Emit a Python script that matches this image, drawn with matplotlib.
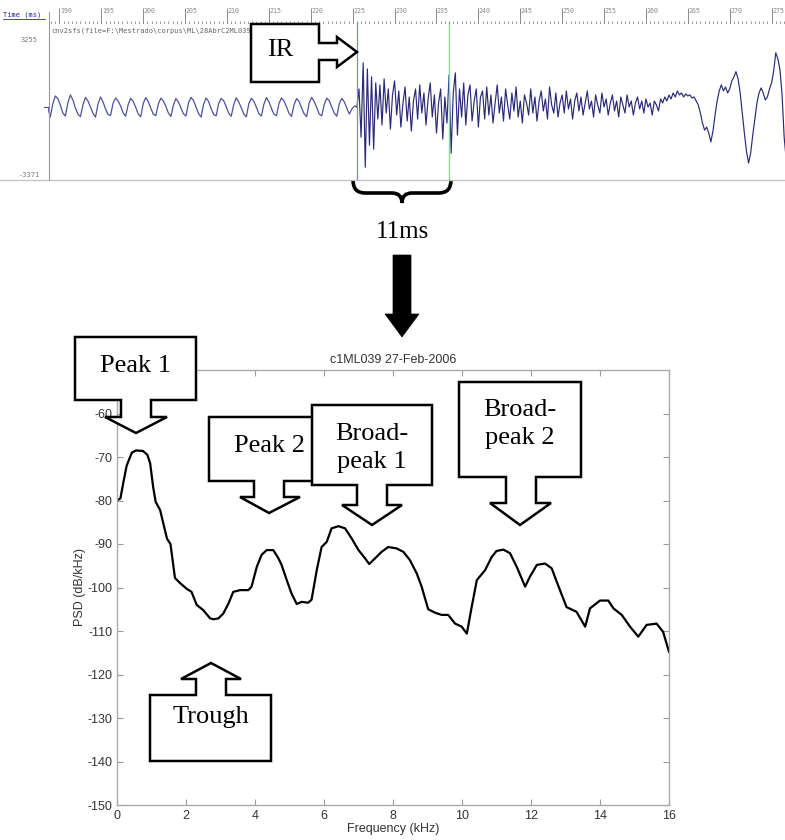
import matplotlib
matplotlib.use('Agg')
import matplotlib.pyplot as plt
from matplotlib.patches import Polygon, PathPatch
from matplotlib.path import Path
import numpy as np

W, H = 785, 840

# --- PSD of the 11 ms window ---
freq_khz = [0.0, 0.1, 0.18, 0.28, 0.43, 0.55, 0.75, 0.88, 0.96, 1.05, 1.12, 1.25, 1.34, 1.45,
            1.55, 1.68, 1.83, 2.02, 2.16, 2.31, 2.5, 2.7, 2.8, 2.94, 3.08, 3.23, 3.37, 3.57,
            3.81, 3.9, 4.05, 4.19, 4.34, 4.53, 4.68, 4.77, 4.92, 5.06, 5.21, 5.35, 5.54, 5.64,
            5.79, 5.93, 6.08, 6.22, 6.42, 6.61, 6.8, 7.0, 7.19, 7.31, 7.48, 7.67, 7.86, 8.1,
            8.3, 8.49, 8.69, 8.83, 9.02, 9.22, 9.41, 9.6, 9.8, 9.99, 10.14, 10.28, 10.43,
            10.67, 10.86, 11.0, 11.2, 11.39, 11.59, 11.83, 11.97, 12.17, 12.41, 12.6, 12.8,
            13.03, 13.32, 13.57, 13.71, 14.0, 14.24, 14.39, 14.63, 14.87, 15.11, 15.35,
            15.64, 15.83, 16.0]
psd_db = [-80.0, -79.5, -76.0, -72.0, -69.0, -68.5, -68.6, -69.5, -71.4, -77.0, -80.3, -82.2,
          -85.2, -88.8, -90.0, -97.8, -99.0, -100.3, -101.0, -104.0, -105.2, -107.1, -107.3,
          -107.1, -106.0, -103.7, -101.0, -100.6, -100.6, -99.8, -95.3, -92.5, -91.4, -91.4,
          -93.3, -94.8, -98.3, -101.4, -103.8, -103.3, -103.5, -102.8, -96.0, -90.7, -89.5,
          -86.4, -85.9, -86.4, -88.7, -91.4, -93.3, -94.6, -93.3, -91.8, -90.7, -91.0, -91.8,
          -93.7, -96.8, -99.8, -105.0, -105.8, -106.3, -106.3, -108.3, -109.0, -110.6, -104.5,
          -98.3, -96.0, -93.0, -91.6, -91.3, -92.1, -95.3, -99.8, -97.5, -94.8, -94.5, -95.6,
          -99.8, -104.5, -105.6, -109.0, -104.8, -103.0, -103.0, -104.8, -106.3, -109.0,
          -111.3, -108.6, -108.3, -110.2, -114.8]

# --- waveform (top strip), amplitude units ---
pre_ir_start = 188.6   # ms
pre_ir_step = 0.3
pre_ir = [0, -500, 150, 550, 420, 100, -300,
          -450, 200, 600, 350, -50, -350,
          -480, 100, 480, 300, 0, -320,
          -500, 150, 500, 250, -100, -380,
          -420, 200, 450, 300, 50, -300,
          -460, 120, 430, 280, -20, -350,
          -480, 180, 470, 260, -60, -360,
          -430, 150, 440, 300, 30, -300,
          -470, 100, 420, 250, -50, -340,
          -450, 200, 480, 320, 0, -330,
          -500, 130, 450, 270, -80, -370,
          -440, 170, 430, 310, 20, -310,
          -460, 120, 460, 250, -40, -350,
          -490, 160, 440, 290, -10, -330,
          -450, 140, 470, 260, -70, -360,
          -430, 180, 450, 300, 10, -320,
          -470, 110, 420, 270, -50, -340,
          -480, 190, 480, 280, -20, -350,
          -440, 130, 440, 310, 0, -300,
          -460, 160, 430, 250, -60, -350, -100, 50, 0]

ir_start = 225.5
ir_end = 236.5
post_ir_step = 0.25
post_ir = [0, 900, -1500, 2200, -3000, 1900, -1900, 1500, -2100, 1200,
           -600, 1100, -900, 1400, -300, 900, -1100, 600, 1300, -400, 800, -1000, 200, 1000,
           -700, 500, -1200, 300, 900, -600, 1100, -300, 700, -900, 400, 1200, -500, 600,
           -1300, 200, 900, -1600, 500, -800,
           1600, -2300, 700, 1700, -1400, 900, -500, 1200, -900, 600, 1100, -700, 300, 900,
           -1000, 500, 800, -600,
           1000, -400, 600, -800, 200, 1100, -300, 500, -700, 900, 100, -600, 700, -200,
           1000, -500, 300, -800, 600, 200, -400, 900, -300, 500, -700, 300, 800, -200,
           400, -600, 1000, 100, -300, 700, -500, 200,
           600, -300, 800, -100, 400, -600, 300, 700, -200, 500, -400, 200, 800, -100, 300,
           -500, 600, 100, -300, 700, 0, 400, -400, 200, 600, -200, 300, -500, 500, 100,
           -300, 600, 0, 300, -400, 200, 500, -100, 300, -300, 400, 0, 200, -400, 300, 100,
           -200, 400,
           200, 500, 300, 600, 400, 700, 500, 800, 600, 700, 500, 650, 550, 600, 450, 500,
           300, 100,
           -300, -800, -1150, -1000, -1300, -1740, -1200, -400, 300, 800, 1100, 800, 1000,
           700, 900, 1300, 1500, 1760, 1400, 700, -300, -1300, -2200, -2790, -2300, -1400,
           -600, 200, 700, 950, 700, 350, 500, 900, 1200, 1800, 2700, 2400, 1850, 600,
           -1500, -2640]

ruler_labels = list(range(190, 280, 5))
amp_max, amp_min = 3255, -3371
t_left, t_right = 188.63, 276.6

mono = 'DejaVu Sans Mono'
serif = 'Liberation Serif'
plt.rcParams['font.family'] = ['Liberation Sans', 'DejaVu Sans']
plt.rcParams['axes.unicode_minus'] = False

fig = plt.figure(figsize=(W / 100, H / 100), dpi=100)

def fbox(x0, y0, x1, y1):
    # pixel box (top-left origin) -> figure fraction rect
    return [x0 / W, 1 - y1 / H, (x1 - x0) / W, (y1 - y0) / H]

# ---- top waveform strip ----
axw = fig.add_axes(fbox(48, 22, 785, 180))
t_pre = pre_ir_start + pre_ir_step * np.arange(len(pre_ir))
t_post = ir_start + post_ir_step * np.arange(len(post_ir))
axw.plot(t_pre, pre_ir, color='#50509e', lw=0.9)
axw.plot(t_post, post_ir, color='#2a2a78', lw=0.85)
axw.axvline(ir_start, color='#8383e8', lw=0.9)
axw.axvline(ir_end, color='#8fd88f', lw=1.0)
axw.set_xlim(t_left, t_right)
# 1 px ~ 49.8 units, zero line at py 107
axw.set_ylim((107 - 180) * 49.8, (107 - 22) * 49.8)
for s in axw.spines.values():
    s.set_visible(False)
axw.set_xticks([])
axw.set_yticks([])
axw.patch.set_alpha(0)

# ruler with the time scale
axr = fig.add_axes(fbox(48, 0, 785, 24))
axr.set_xlim(t_left, t_right)
axr.set_ylim(24, 0)
axr.axis('off')
minor = np.arange(189.0, 277.0, 0.5)
axr.vlines(minor, 20.5, 24, color='#8a8a8a', lw=0.6)
axr.vlines(ruler_labels, 8, 24, color='#8a8a8a', lw=0.7)
for v in ruler_labels:
    axr.text(v + 0.05, 11, str(v), fontsize=4.8, family=mono, color='#8a8a8a',
             ha='left', va='center')

# ---- lower PSD plot ----
ax = fig.add_axes(fbox(117, 370, 669, 805))
ax.plot(freq_khz, psd_db, color='black', lw=1.6)
ax.set_xlim(0, 16)
ax.set_ylim(-150, -50)
ax.set_xticks(range(0, 17, 2))
ax.set_yticks(range(-150, -50, 10))
ax.tick_params(direction='in', length=4, top=True, right=True, labelsize=9,
               color='#999999', labelcolor='#333333', width=0.8)
for s in ax.spines.values():
    s.set_color('#aaaaaa')
    s.set_linewidth(1.0)
ax.set_title('c1ML039 27-Feb-2006', fontsize=9, color='#333333', pad=5)
ax.set_xlabel('Frequency (kHz)', fontsize=9, color='#333333', labelpad=1)
ax.set_ylabel('PSD (dB/kHz)', fontsize=9, color='#333333', labelpad=1)

# ---- overlay in pixel coordinates for annotations ----
ov = fig.add_axes([0, 0, 1, 1], zorder=10)
ov.set_xlim(0, W)
ov.set_ylim(H, 0)
ov.axis('off')

# strip decorations
ov.plot([0, W], [180, 180], color='#c0c0c0', lw=0.9)
ov.plot([48.5, 48.5], [12, 180], color='#9a9a9a', lw=0.8)
ov.plot([44, 48], [107, 107], color='#555555', lw=0.8)
ov.text(3, 15, 'Time (ms)', fontsize=5, family=mono, color='#2c2c8c', ha='left', va='center')
ov.plot([3, 45], [18.5, 18.5], color='#2c2c8c', lw=0.6)
ov.text(38, 40, str(amp_max), fontsize=5, family=mono, color='#7a7a7a', ha='right', va='center')
ov.text(40, 175, str(amp_min), fontsize=5, family=mono, color='#7a7a7a', ha='right', va='center')
ov.text(51, 31, r'cnv2sfs(file=F:\Mestrado\corpus\ML\28AbrC2ML039.wav,channel=1)',
        fontsize=5, family=mono, color='#666666', ha='left', va='center')

CALL = dict(facecolor='white', edgecolor='black', lw=1.8, joinstyle='miter', zorder=5)


def down_callout(l, r, t, b, sl, sr, sb, wl, wr, tip, label, ty):
    pts = [(l, t), (r, t), (r, b), (sr, b), (sr, sb), (wr, sb), tip,
           (wl, sb), (sl, sb), (sl, b), (l, b)]
    ov.add_patch(Polygon(pts, closed=True, **CALL))
    ov.text((l + r) / 2, ty, label, family=serif, fontsize=19, ha='center', va='center',
            linespacing=1.3, zorder=6)


down_callout(75, 196, 337, 400, 121, 151, 417, 105, 167, (136, 433), 'Peak 1', 366)
down_callout(209, 329, 417, 481, 254, 284, 497, 240, 300, (269, 513), 'Peak 2', 446)
down_callout(312, 432, 405, 485, 357, 387, 505, 342, 402, (372, 525), 'Broad-\npeak 1', 448)
down_callout(459, 581, 382, 477, 506, 536, 503, 490, 551, (520, 525), 'Broad-\npeak 2', 424)

# trough: arrow pointing up
trough = [(150, 761), (150, 695), (196, 695), (196, 679), (181, 679), (211, 663),
          (241, 679), (226, 679), (226, 695), (271, 695), (271, 761)]
ov.add_patch(Polygon(trough, closed=True, **CALL))
ov.text(210.5, 717, 'Trough', family=serif, fontsize=19, ha='center', va='center', zorder=6)

# IR: arrow pointing right
ir_box = [(251, 24), (319, 24), (319, 43), (337, 43), (337, 37), (357, 52), (337, 67),
          (337, 60), (319, 60), (319, 82), (251, 82)]
ov.add_patch(Polygon(ir_box, closed=True, **CALL))
ov.text(280, 50, 'IR', family=serif, fontsize=19, ha='center', va='center', zorder=6)

# brace for the 11 ms window
M, C3, L = Path.MOVETO, Path.CURVE3, Path.LINETO
verts = [(353, 180), (353, 193), (365, 193), (392, 193), (402, 193), (402, 203),
         (402, 193), (412, 193), (439, 193), (451, 193), (451, 180)]
codes = [M, C3, C3, L, C3, C3, C3, C3, L, C3, C3]
ov.add_patch(PathPatch(Path(verts, codes), facecolor='none', edgecolor='black', lw=2.6))
ov.text(402, 232, '11ms', family=serif, fontsize=18, ha='center', va='center')

# big arrow down to the PSD
big = [(393, 255), (411, 255), (411, 314), (419, 314), (402, 337), (385, 314), (393, 314)]
ov.add_patch(Polygon(big, closed=True, facecolor='black', edgecolor='black', lw=0.5))

fig.savefig('out.png', dpi=100)
